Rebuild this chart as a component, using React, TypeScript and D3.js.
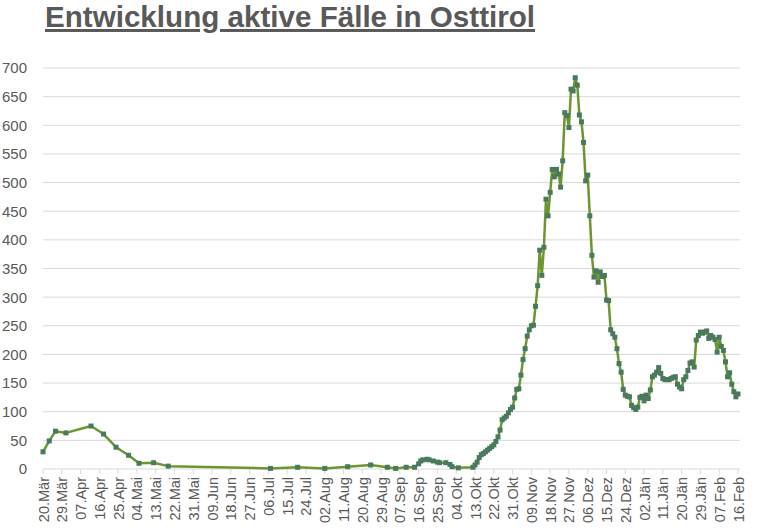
import React from 'react';
import * as d3 from 'd3';

const title = 'Entwicklung aktive Fälle in Osttirol';

const axisStart = '2020-03-20';
const axisEnd = '2021-02-16';
const tickStepDays = 9;
const monthNames = ['Jän', 'Feb', 'Mär', 'Apr', 'Mai', 'Jun', 'Jul', 'Aug', 'Sep', 'Okt', 'Nov', 'Dez'];
const yTicks = [0, 50, 100, 150, 200, 250, 300, 350, 400, 450, 500, 550, 600, 650, 700];

// sparse reports (spring / summer)
const sparseDates = [
  '2020-03-20', '2020-03-23', '2020-03-26', '2020-03-31', '2020-04-12', '2020-04-18',
  '2020-04-24', '2020-04-30', '2020-05-05', '2020-05-12', '2020-05-19', '2020-07-07',
  '2020-07-20', '2020-08-02', '2020-08-13', '2020-08-24', '2020-09-01', '2020-09-05',
  '2020-09-10', '2020-09-14', '2020-09-16', '2020-09-17', '2020-09-18', '2020-09-20',
  '2020-09-21', '2020-09-23', '2020-09-25', '2020-09-26', '2020-09-29', '2020-10-01',
  '2020-10-02', '2020-10-05',
];
const sparseValues = [
  30, 49, 66, 63, 75, 61,
  38, 24, 10, 11, 5, 1,
  3, 1, 4, 7, 3, 1,
  3, 3, 9, 14, 16, 17,
  16, 14, 12, 11, 11, 8,
  4, 2,
];

// daily reports from this date on
const dailyStart = '2020-10-12';
const dailyValues = [
  3, 7, 12, 20, 25, 27, 30, 33, 36, 39,
  42, 48, 56, 68, 86, 89, 92, 98, 104, 108,
  124, 139, 140, 164, 191, 210, 232, 243, 250, 251,
  284, 320, 382, 338, 387, 471, 442, 483, 523, 510,
  523, 515, 492, 538, 622, 617, 596, 663, 660, 683,
  670, 618, 606, 570, 503, 513, 442, 373, 335, 346,
  326, 344, 336, 338, 295, 294, 243, 236, 230, 210,
  184, 169, 139, 129, 127, 126, 111, 107, 104, 108,
  125, 127, 119, 129, 123, 138, 161, 164, 169, 177,
  167, 158, 156, 156, 156, 158, 160, 161, 148, 143,
  140, 156, 161, 172, 185, 187, 178, 225, 233, 239,
  237, 239, 241, 228, 233, 230, 226, 204, 230, 214,
  207, 187, 161, 168, 148, 135, 126, 131,
];

const W = 768;
const H = 528;
const left = 43;
const right = 738;
const top = 68;
const bottom = 469;
const textColor = '#595959';
const gridColor = '#d9d9d9';
const lineColor = '#6c962f';
const markerColor = '#4a7a5e';
const font = '"Liberation Sans", Arial, sans-serif';

export default function App() {
  const parse = d3.utcParse('%Y-%m-%d');
  const start = parse(axisStart)!;
  const end = parse(axisEnd)!;
  const x = d3.scaleUtc().domain([start, end]).range([left, right]);
  const y = d3.scaleLinear().domain([0, 700]).range([bottom, top]);

  const points: { date: Date; value: number }[] = [
    ...sparseDates.map((d, i) => ({ date: parse(d)!, value: sparseValues[i] })),
    ...dailyValues.map((v, i) => ({ date: d3.utcDay.offset(parse(dailyStart)!, i), value: v })),
  ];

  const totalDays = d3.utcDay.count(start, end);
  const ticks = d3.range(0, totalDays + 1, tickStepDays).map((k) => d3.utcDay.offset(start, k));
  const fmt = (d: Date) => `${String(d.getUTCDate()).padStart(2, '0')}.${monthNames[d.getUTCMonth()]}`;

  const line = d3
    .line<{ date: Date; value: number }>()
    .x((d) => x(d.date))
    .y((d) => y(d.value));

  const ms = 5;

  return (
    <svg
      width={W}
      height={H}
      style={{ position: 'absolute', left: 0, top: 0, background: '#fff' }}
      fontFamily={font}
    >
      <rect x={0} y={0} width={W} height={H} fill="#fff" />
      <text
        x={45}
        y={27}
        fontSize={29.6}
        fontWeight="bold"
        fill={textColor}
        textDecoration="underline"
      >
        {title}
      </text>
      {yTicks.map((t) => (
        <g key={t}>
          <line x1={left} x2={740} y1={y(t)} y2={y(t)} stroke={gridColor} strokeWidth={1} />
          <text x={27} y={y(t)} dy="0.36em" textAnchor="end" fontSize={15} fill={textColor}>
            {t}
          </text>
        </g>
      ))}
      {ticks.map((t, i) => (
        <g key={i}>
          <line x1={x(t)} x2={x(t)} y1={bottom} y2={bottom + 5} stroke={gridColor} strokeWidth={1} />
          <text
            transform={`translate(${x(t) + 5.5},${bottom + 8}) rotate(-90)`}
            textAnchor="end"
            fontSize={14.5}
            fill={textColor}
          >
            {fmt(t)}
          </text>
        </g>
      ))}
      <path d={line(points) || ''} fill="none" stroke={lineColor} strokeWidth={2.5} strokeLinejoin="round" />
      {points.map((p, i) => (
        <rect
          key={i}
          x={x(p.date) - ms / 2}
          y={y(p.value) - ms / 2}
          width={ms}
          height={ms}
          fill={markerColor}
        />
      ))}
    </svg>
  );
}
